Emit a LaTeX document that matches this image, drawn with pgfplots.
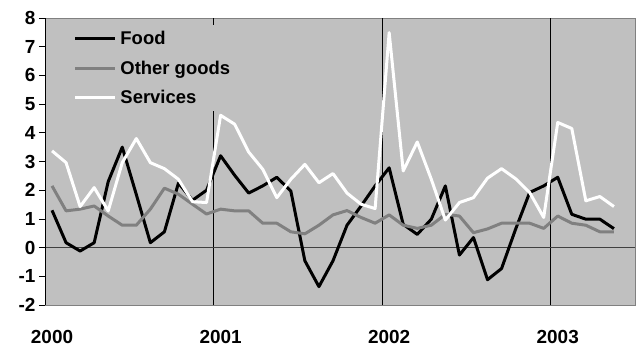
\documentclass[border=0pt]{standalone}
\usepackage{pgfplots}
\pgfplotsset{compat=1.18}
\usepackage{pgfplotstable}
\usepackage{fontspec}
\setmainfont{Liberation Sans}
\definecolor{bg}{HTML}{C0C0C0}
\definecolor{og}{HTML}{808080}

\pgfplotstableread{
i food other services
0 1.30 2.15 3.37
1 0.17 1.28 2.96
2 -0.12 1.34 1.43
3 0.17 1.45 2.09
4 2.30 1.10 1.28
5 3.50 0.78 2.96
6 1.85 0.78 3.80
7 0.17 1.34 2.96
8 0.55 2.07 2.75
9 2.25 1.86 2.38
10 1.65 1.51 1.60
11 2.00 1.17 1.57
12 3.20 1.34 4.61
13 2.52 1.28 4.30
14 1.90 1.28 3.33
15 2.15 0.85 2.73
16 2.45 0.85 1.74
17 1.97 0.55 2.38
18 -0.46 0.48 2.90
19 -1.36 0.78 2.26
20 -0.46 1.14 2.58
21 0.78 1.29 1.90
22 1.45 1.05 1.51
23 2.15 0.85 1.36
24 2.78 1.14 7.49
25 0.81 0.78 2.67
26 0.46 0.67 3.68
27 0.99 0.78 2.38
28 2.15 1.16 0.96
29 -0.26 1.10 1.57
30 0.35 0.52 1.74
31 -1.12 0.65 2.42
32 -0.73 0.85 2.75
33 0.64 0.85 2.40
34 1.92 0.85 1.92
35 2.15 0.67 1.05
36 2.45 1.10 4.36
37 1.16 0.85 4.15
38 0.99 0.78 1.63
39 0.99 0.55 1.78
40 0.66 0.55 1.43
}\datatable

\begin{document}
\begin{tikzpicture}
\useasboundingbox (-45bp,-45bp) rectangle (591bp,305bp);
\begin{axis}[
  at={(0,0)}, anchor=south west,
  scale only axis, width=590bp, height=287bp,
  xmin=-0.5, xmax=41.5, ymin=-2, ymax=8,
  axis background/.style={fill=bg},
  axis line style={og, line width=1bp},
  xtick={0,12,24,36},
  xticklabels={2000,2001,2002,2003},
  x tick style={draw=none},
  xticklabel style={yshift=-16bp},
  ytick={-2,-1,0,1,2,3,4,5,6,7,8},
  yticklabels={-2,-1,0,1,2,3,4,5,6,7,8},
  ytick pos=left,
  y tick style={black, line width=0.8bp},
  tick align=outside,
  major tick length=6bp,
  ticklabel style={font=\bfseries\fontsize{19}{21}\selectfont},
  extra x ticks={11.5,23.5,35.5},
  extra x tick labels={},
  extra x tick style={grid=major, major grid style={black, line width=0.6bp}, tick style={draw=none}},
  extra y ticks={0},
  extra y tick labels={},
  extra y tick style={grid=major, major grid style={black!75, line width=0.8bp}},
  legend style={at={(0.042,0.975)}, anchor=north west, fill=bg, draw=none,
    font=\bfseries\fontsize{18.5}{20}\selectfont, row sep=10.5bp, inner xsep=4bp, inner ysep=4bp,
    nodes={inner xsep=3.5bp}},
  legend cell align=left,
  legend image code/.code={\draw[#1] (0bp,0bp) -- (40bp,0bp);},
  every axis plot/.append style={line width=3bp, line join=round},
]
\addplot[black, mark=none] table[x=i, y=food] {\datatable};
\addlegendentry{Food}
\addplot[og, mark=none] table[x=i, y=other] {\datatable};
\addlegendentry{Other goods}
\addplot[white, mark=none] table[x=i, y=services] {\datatable};
\addlegendentry{Services}
\draw[black, line width=1bp] (rel axis cs:0,0) -- (rel axis cs:0,1);
\end{axis}
\end{tikzpicture}
\end{document}
